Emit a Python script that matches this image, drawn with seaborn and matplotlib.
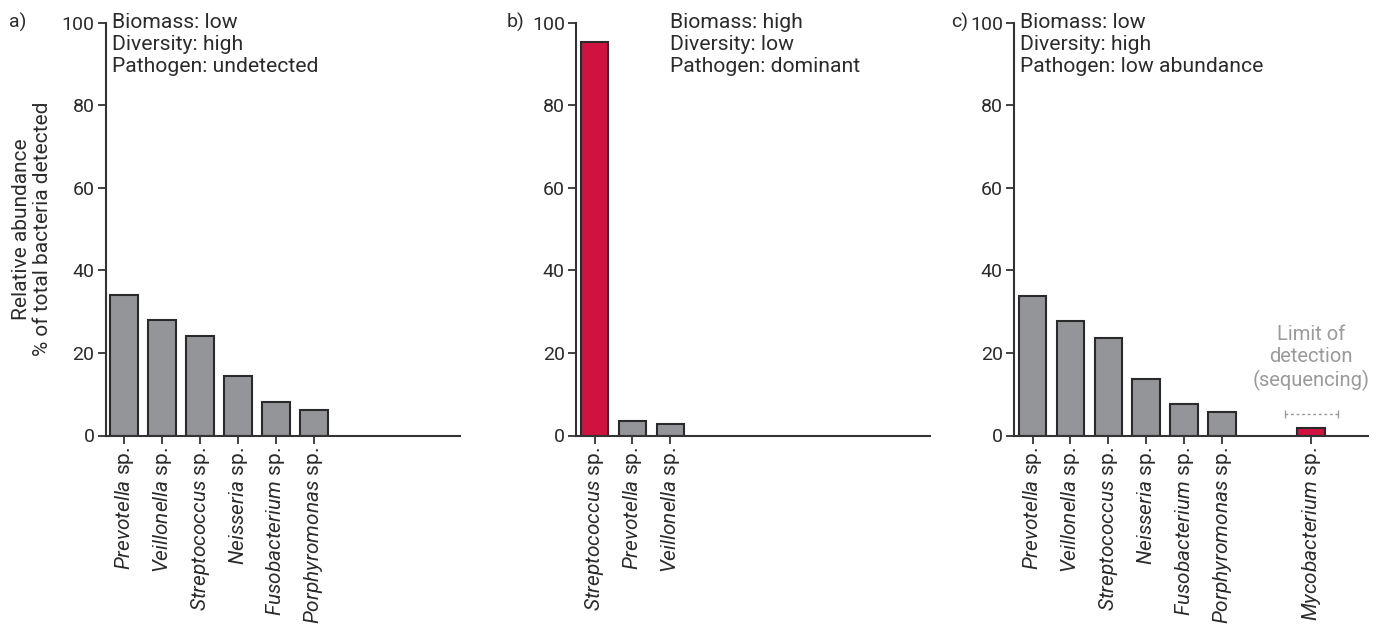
import matplotlib
matplotlib.use("Agg")
import matplotlib.pyplot as plt
import seaborn as sns
import pandas as pd

sns.set_theme(style="white")
plt.rcParams["font.family"] = ["Roboto", "DejaVu Sans"]
plt.rcParams["mathtext.fontset"] = "custom"
plt.rcParams["mathtext.rm"] = "Roboto"
plt.rcParams["mathtext.it"] = "Roboto:italic"

# ---- data ----
genera_a = ["Prevotella", "Veillonella", "Streptococcus", "Neisseria", "Fusobacterium", "Porphyromonas"]
abund_a = [34.0, 28.0, 24.2, 14.4, 8.1, 6.2]
pathogen_a = [False, False, False, False, False, False]

genera_b = ["Streptococcus", "Prevotella", "Veillonella"]
abund_b = [95.4, 3.4, 2.7]
pathogen_b = [True, False, False]

genera_c = ["Prevotella", "Veillonella", "Streptococcus", "Neisseria", "Fusobacterium", "Porphyromonas", "Mycobacterium"]
abund_c = [33.8, 27.7, 23.7, 13.7, 7.6, 5.6, 1.75]
pathogen_c = [False, False, False, False, False, False, True]

detection_limit = 5.1

notes_a = "Biomass: low\nDiversity: high\nPathogen: undetected"
notes_b = "Biomass: high\nDiversity: low\nPathogen: dominant"
notes_c = "Biomass: low\nDiversity: high\nPathogen: low abundance"

y_ticks = [0, 20, 40, 60, 80, 100]

# ---- style ----
GREY = "#939598"
RED = "#cf123f"
EDGE = "#2a2a2a"
TXT = "#2b2b2b"
LOD = "#9a9a9a"

W, H = 1384, 624
fig = plt.figure(figsize=(W / 100, H / 100), dpi=100)

def fx(px):
    return px / W

bottom = 1 - 435.5 / H
height = (435.5 - 22.9) / H
panel_left = [105.6, 576.0, 1014.0]
panel_right = [460.0, 930.0, 1368.0]


def draw_panel(ax, genera, values, pathogen, positions, notes, note_x, letter):
    df = pd.DataFrame({
        "pos": positions,
        "val": values,
        "kind": ["pathogen" if p else "other" for p in pathogen],
    })
    sns.barplot(data=df, x="pos", y="val", hue="kind",
                palette={"pathogen": RED, "other": GREY},
                native_scale=True, width=0.73, legend=False,
                edgecolor=EDGE, linewidth=1.5, saturation=1, ax=ax)
    ax.set_xlim(-0.49, 8.85)
    ax.set_ylim(0, 100)
    ax.set_yticks(y_ticks)
    ax.set_yticklabels([str(t) for t in y_ticks], fontsize=14, color=TXT)
    ax.set_xticks(positions)
    ax.set_xticklabels([r"$\mathit{%s}$ sp." % g for g in genera],
                       rotation=90, fontsize=15, color=TXT)
    ax.set_xlabel("")
    ax.set_ylabel("")
    for s in ["top", "right"]:
        ax.spines[s].set_visible(False)
    for s in ["left", "bottom"]:
        ax.spines[s].set_color("#333333")
        ax.spines[s].set_linewidth(1.5)
    ax.tick_params(axis="both", direction="out", length=6, width=1.3,
                   color="#333333", pad=2, left=True, bottom=True)
    ax.text(note_x, 1.025, notes, transform=ax.transAxes, ha="left", va="top",
            fontsize=15.2, color=TXT, linespacing=1.22)
    fig.text(letter[1], 1 - 22 / H, letter[0], ha="left", va="center",
             fontsize=14, color=TXT)


axes = []
for i in range(3):
    ax = fig.add_axes([fx(panel_left[i]), bottom,
                       fx(panel_right[i] - panel_left[i]), height])
    axes.append(ax)

draw_panel(axes[0], genera_a, abund_a, pathogen_a, [0, 1, 2, 3, 4, 5],
           notes_a, 0.017, ("a)", fx(9)))
draw_panel(axes[1], genera_b, abund_b, pathogen_b, [0, 1, 2],
           notes_b, 0.265, ("b)", fx(507)))
pos_c = [0, 1, 2, 3, 4, 5, 7.35]
draw_panel(axes[2], genera_c, abund_c, pathogen_c, pos_c,
           notes_c, 0.017, ("c)", fx(951)))

axes[0].set_ylabel("Relative abundance\n% of total bacteria detected",
                   fontsize=15, color=TXT, linespacing=1.12)
axes[0].yaxis.set_label_coords(-0.151, 0.5)

# detection limit marker for the sequencing panel
axc = axes[2]
x_lod = pos_c[-1]
axc.hlines(detection_limit, x_lod - 0.7, x_lod + 0.7, colors=LOD,
           linestyles=(0, (2, 2)), linewidth=1.0)
axc.plot([x_lod - 0.7, x_lod + 0.7], [detection_limit, detection_limit],
         linestyle="none", marker="|", markersize=6, color=LOD, mew=1.0)
axc.text(x_lod, detection_limit + 5.8, "Limit of\ndetection\n(sequencing)",
         ha="center", va="bottom", fontsize=14.5, color=LOD, linespacing=1.2)

fig.savefig("out.png", dpi=100)
